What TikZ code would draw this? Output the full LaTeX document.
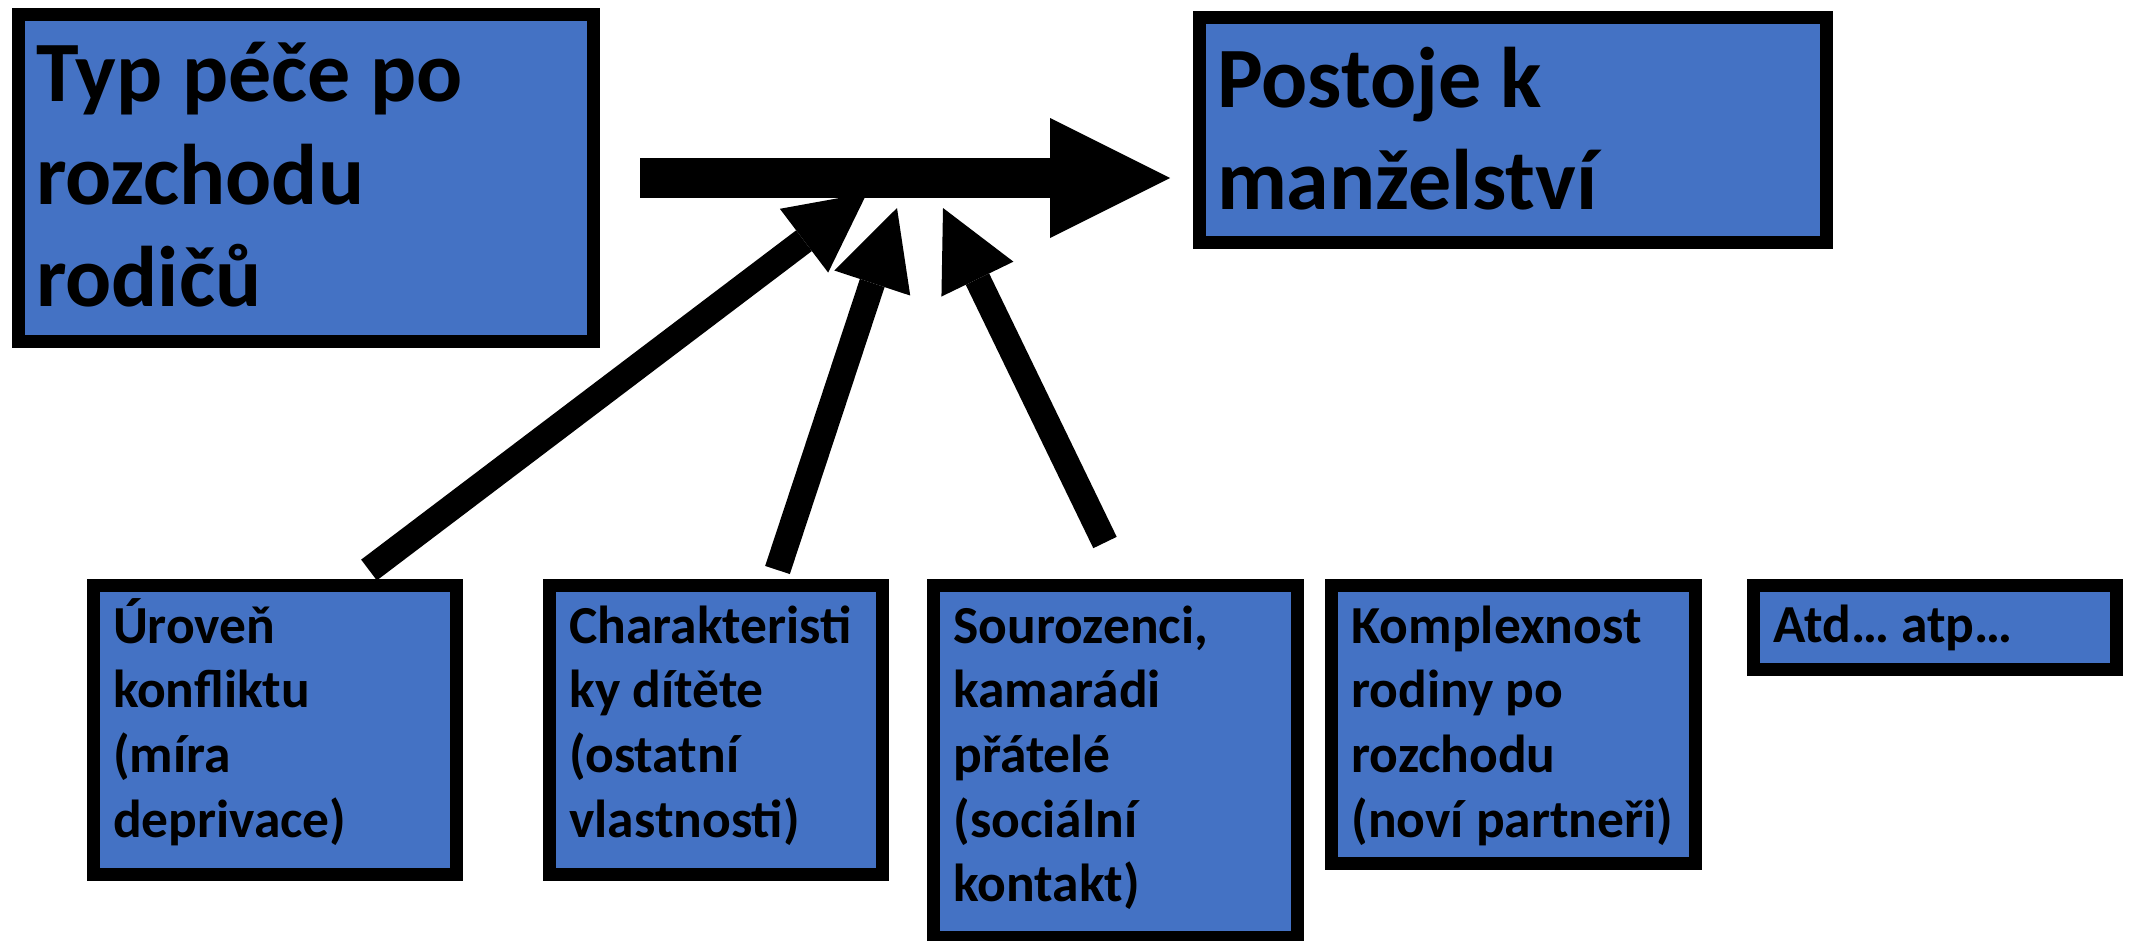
\documentclass[tikz,border=0pt]{standalone}
\usepackage{fontspec}
\setmainfont{Carlito}
\usetikzlibrary{arrows.meta,calc}
\definecolor{boxblue}{HTML}{4472C4}
\newcommand{\bigtxt}{\fontsize{86}{102.5}\selectfont\bfseries}
\newcommand{\smalltxt}{\fontsize{53.5}{64.7}\selectfont\bfseries}
% #1 width, #2 height, #3 left inset, #4 top inset, #5 text
\newcommand{\boxcontent}[5]{\parbox[b][#2][t]{#1}{\vspace*{#4}\raggedright\leftskip=#3\relax\noindent\strut #5\par}}
\tikzset{
  factorbox/.style={draw=black, line width=13pt, fill=boxblue, inner sep=0pt, outer sep=0pt, anchor=north west},
  bigbox/.style={factorbox, font=\bigtxt},
  smallbox/.style={factorbox, font=\smalltxt},
  mainarr/.style={line width=40pt, -{Triangle[length=120pt, width=120pt, line width=0pt]}},
  infl/.style={line width=26pt, -{Triangle[length=79pt, width=80pt, line width=0pt]}}
}
\begin{document}
\begin{tikzpicture}[x=1pt, y=-1pt]
\useasboundingbox (0,0) rectangle (2131,940);
% boxes
\node[bigbox] (typ) at (18.5,14.5) {\boxcontent{575pt}{327pt}{17.5pt}{15.25pt}{Typ péče po\\rozchodu\\rodičů}};
\node[bigbox] (postoje) at (1199.5,17.5) {\boxcontent{627pt}{225pt}{17.5pt}{17.75pt}{Postoje k\\manželství}};
\node[smallbox] (uroven) at (93.5,585.5) {\boxcontent{363pt}{289pt}{19.5pt}{12.2pt}{Úroveň\\konfliktu\\(míra\\deprivace)}};
\node[smallbox] (charakter) at (549.5,585.5) {\boxcontent{333pt}{289pt}{20pt}{12.2pt}{Charakteristi\\ky dítěte\\(ostatní\\vlastnosti)}};
\node[smallbox] (sourozenci) at (933.5,585.5) {\boxcontent{364pt}{352pt}{20pt}{12.2pt}{Sourozenci,\\kamarádi\\přátelé\\(sociální\\kontakt)}};
\node[smallbox] (komplex) at (1331.5,585.5) {\boxcontent{364pt}{278pt}{20pt}{12.2pt}{Komplexnost\\rodiny po\\rozchodu\\(noví partneři)}};
\node[smallbox] (atd) at (1753.5,585.5) {\boxcontent{363pt}{84pt}{20pt}{12.2pt}{Atd… atp…}};
% main arrow
\draw[mainarr, shorten <=46.5pt, shorten >=29.5pt] (typ.east) -- (typ.east -| postoje.west);
% influence arrows
\coordinate (hA) at (867,193);
\coordinate (hB) at (897,208);
\coordinate (hC) at (943,208);
\draw[infl] ($(uroven.north)+(94,-15.5)$) -- (hA);
\draw[infl] ($(charakter.north)+(61.5,-15.5)$) -- (hB);
\draw[infl] ($(sourozenci.north)+(-10.5,-43)$) -- (hC);
\end{tikzpicture}
\end{document}
